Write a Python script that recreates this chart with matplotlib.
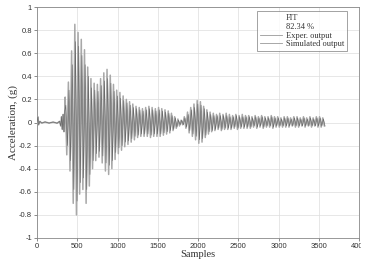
import matplotlib
matplotlib.use('Agg')
import matplotlib.pyplot as plt
from matplotlib.lines import Line2D
from matplotlib.patches import Rectangle
import numpy as np

# quiet part before the event (sample, acceleration)
pre_x = [0, 10, 20, 35, 60, 100, 150, 200, 250, 280, 295, 305, 315, 325, 335, 345]
pre_y = [0.0, 0.05, -0.02, 0.01, -0.005, 0.005, -0.005, 0.004, -0.006, 0.01,
         -0.03, 0.05, -0.06, 0.07, -0.08, 0.10]

# one cycle every 40 samples from sample 350: positive and negative peaks
cycle_start = 350
cycle_step = 40
exper_pos = [0.22, 0.35, 0.62, 0.85, 0.78, 0.72, 0.63, 0.48, 0.38, 0.34,
             0.33, 0.38, 0.43, 0.46, 0.41, 0.33, 0.28, 0.26, 0.23, 0.20,
             0.18, 0.16, 0.14, 0.13, 0.12, 0.13, 0.14, 0.13, 0.12, 0.13,
             0.12, 0.11, 0.10, 0.08, 0.05, 0.03, 0.02, 0.05, 0.09, 0.13,
             0.16, 0.19, 0.18, 0.14, 0.11, 0.09, 0.08, 0.07, 0.08, 0.07,
             0.08, 0.07, 0.06, 0.07, 0.06, 0.07, 0.06, 0.06, 0.05, 0.06,
             0.05, 0.06, 0.05, 0.05, 0.06, 0.05, 0.05, 0.04, 0.05, 0.05,
             0.04, 0.05, 0.05, 0.04, 0.05, 0.04, 0.05, 0.04, 0.05, 0.05,
             0.04]
exper_neg = [-0.28, -0.42, -0.70, -0.80, -0.62, -0.58, -0.70, -0.55, -0.40, -0.33,
             -0.30, -0.35, -0.42, -0.45, -0.40, -0.32, -0.27, -0.24, -0.21, -0.19,
             -0.17, -0.15, -0.13, -0.12, -0.12, -0.12, -0.13, -0.12, -0.12, -0.12,
             -0.11, -0.10, -0.09, -0.07, -0.05, -0.03, -0.02, -0.05, -0.09, -0.12,
             -0.15, -0.18, -0.17, -0.13, -0.10, -0.08, -0.07, -0.06, -0.07, -0.06,
             -0.06, -0.06, -0.05, -0.06, -0.05, -0.05, -0.05, -0.05, -0.04, -0.05,
             -0.04, -0.05, -0.04, -0.04, -0.05, -0.04, -0.04, -0.04, -0.04, -0.04,
             -0.03, -0.04, -0.04, -0.03, -0.04, -0.03, -0.04, -0.03, -0.04, -0.04,
             -0.03]
sim_pos = [0.15, 0.28, 0.50, 0.70, 0.66, 0.58, 0.50, 0.40, 0.30, 0.28,
           0.27, 0.32, 0.36, 0.38, 0.34, 0.27, 0.23, 0.21, 0.19, 0.17,
           0.15, 0.13, 0.12, 0.11, 0.10, 0.11, 0.12, 0.11, 0.10, 0.11,
           0.10, 0.09, 0.08, 0.06, 0.04, 0.02, 0.02, 0.04, 0.07, 0.11,
           0.13, 0.16, 0.15, 0.12, 0.09, 0.07, 0.06, 0.06, 0.06, 0.06,
           0.06, 0.05, 0.05, 0.06, 0.05, 0.05, 0.05, 0.05, 0.04, 0.05,
           0.04, 0.05, 0.04, 0.04, 0.05, 0.04, 0.04, 0.03, 0.04, 0.04,
           0.03, 0.04, 0.04, 0.03, 0.04, 0.03, 0.04, 0.03, 0.04, 0.04,
           0.03]
sim_neg = [-0.20, -0.33, -0.58, -0.68, -0.52, -0.48, -0.58, -0.45, -0.33, -0.27,
           -0.25, -0.29, -0.35, -0.37, -0.33, -0.26, -0.22, -0.20, -0.17, -0.16,
           -0.14, -0.12, -0.11, -0.10, -0.10, -0.10, -0.11, -0.10, -0.10, -0.10,
           -0.09, -0.08, -0.07, -0.06, -0.04, -0.02, -0.02, -0.04, -0.07, -0.10,
           -0.12, -0.15, -0.14, -0.11, -0.08, -0.07, -0.06, -0.05, -0.06, -0.05,
           -0.05, -0.05, -0.04, -0.05, -0.04, -0.04, -0.04, -0.04, -0.03, -0.04,
           -0.03, -0.04, -0.03, -0.03, -0.04, -0.03, -0.03, -0.03, -0.03, -0.03,
           -0.03, -0.03, -0.03, -0.03, -0.03, -0.03, -0.03, -0.03, -0.03, -0.03,
           -0.03]

fit_text = ['FIT', '82.34 %']
series_labels = ['Exper. output', 'Simulated output']
x_ticks = [0, 500, 1000, 1500, 2000, 2500, 3000, 3500, 4000]
y_ticks = [-1, -0.8, -0.6, -0.4, -0.2, 0, 0.2, 0.4, 0.6, 0.8, 1]
y_tick_labels = ['-1', '-0.8', '-0.6', '-0.4', '-0.2', '0', '0.2', '0.4', '0.6', '0.8', '1']


def build_trace(pos, neg, offset):
    xs = list(pre_x)
    ys = list(pre_y)
    for k in range(len(pos)):
        x0 = cycle_start + cycle_step * k + offset
        xs += [x0, x0 + cycle_step / 2]
        ys += [pos[k], neg[k]]
    return xs, ys


fig = plt.figure(figsize=(3.81, 2.60), dpi=100)
ax = fig.add_axes([37 / 381, 22 / 260, 322 / 381, 231 / 260])

ex_x, ex_y = build_trace(exper_pos, exper_neg, 0)
sm_x, sm_y = build_trace(sim_pos, sim_neg, 8)
ax.plot(ex_x, ex_y, color='#a8a8a8', lw=1.1, label=series_labels[0], zorder=3)
ax.plot(sm_x, sm_y, color='#6a6a6a', lw=0.45, label=series_labels[1], zorder=4)

ax.set_xlim(0, 4000)
ax.set_ylim(-1, 1)
ax.set_xticks(x_ticks)
ax.set_yticks(y_ticks)
ax.set_yticklabels(y_tick_labels)
ax.grid(True, color='#dddddd', lw=0.5)
ax.tick_params(labelsize=5.5, length=2, width=0.4, pad=1.5, colors='#333333')
for lab in ax.get_xticklabels() + ax.get_yticklabels():
    lab.set_family('Liberation Sans')
for sp in ax.spines.values():
    sp.set_color('#888888')
    sp.set_linewidth(0.6)

ax.set_xlabel('Samples', family='Liberation Serif', fontsize=7.5, labelpad=0, color='#333333')
ax.set_ylabel('Acceleration, (g)', family='Liberation Serif', fontsize=8, labelpad=1, color='#333333')

blank = Line2D([], [], color='none')
handles = [blank, blank] + ax.get_lines()
labels = fit_text + series_labels
leg = ax.legend(handles, labels, loc='upper right', bbox_to_anchor=(0.963, 0.983),
                prop={'family': 'Liberation Serif', 'size': 6}, frameon=True,
                fancybox=False, handlelength=2.6, handletextpad=0.5,
                labelspacing=0.1, borderpad=0.35, borderaxespad=0)
leg.get_frame().set_edgecolor('#777777')
leg.get_frame().set_linewidth(0.6)
for t in leg.get_texts():
    t.set_color('#333333')
for ln in leg.get_lines()[2:]:
    ln.set_color('#999999')
    ln.set_linewidth(0.6)

# reference image is cropped just right of the plot frame
fig.add_artist(Rectangle((360.5 / 381, 0), 1, 1, transform=fig.transFigure,
                         color='white', zorder=10))

fig.savefig('out.png', dpi=100)
